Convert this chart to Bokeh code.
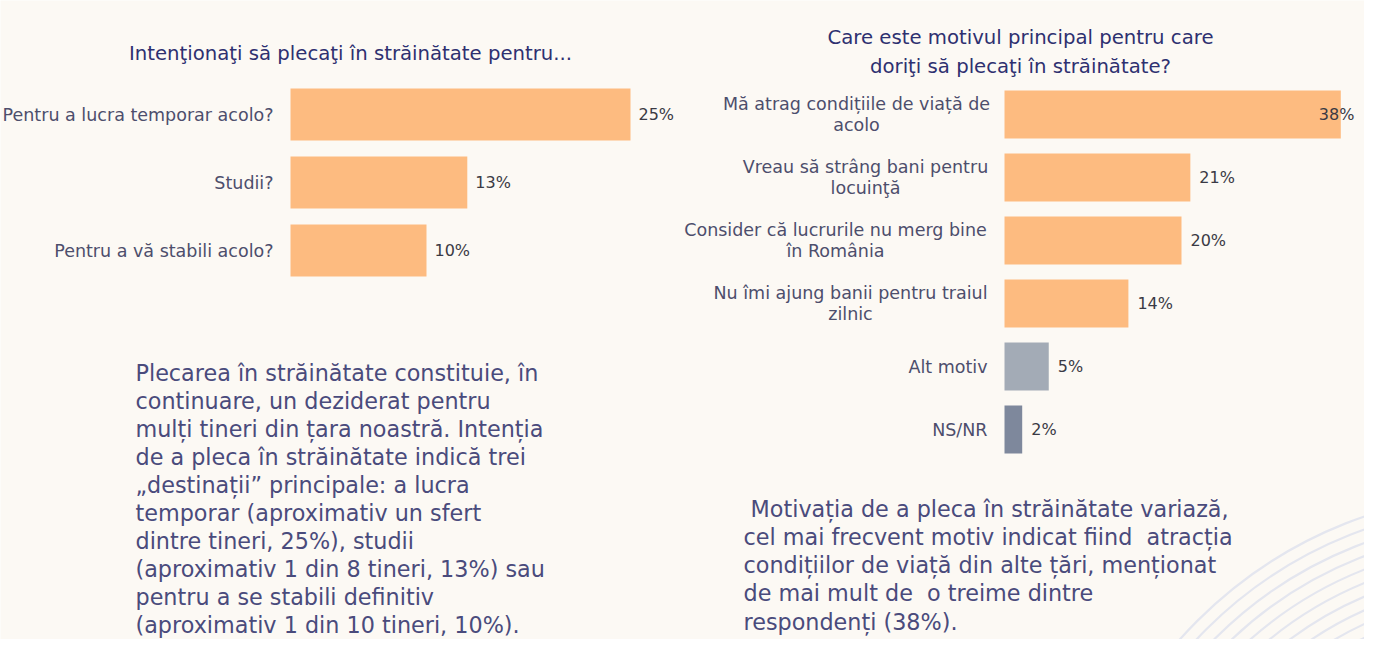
from bokeh.plotting import figure
from bokeh.models import Range1d, ColumnDataSource
from bokeh.core.properties import value
from bokeh.embed import file_html
from bokeh.resources import INLINE

# ---------------- data ----------------
left_title = ["Intenţionaţi să plecaţi în străinătate pentru..."]
left_categories = ["Pentru a lucra temporar acolo?", "Studii?", "Pentru a vă stabili acolo?"]
left_values = [25, 13, 10]
left_value_labels = ["25%", "13%", "10%"]

right_title = ["Care este motivul principal pentru care", "doriţi să plecaţi în străinătate?"]
right_categories = [
    ["Mă atrag condițiile de viață de", "acolo"],
    ["Vreau să strâng bani pentru", "locuinţă"],
    ["Consider că lucrurile nu merg bine", "în România"],
    ["Nu îmi ajung banii pentru traiul", "zilnic"],
    ["Alt motiv"],
    ["NS/NR"],
]
right_values = [38, 21, 20, 14, 5, 2]
right_value_labels = ["38%", "21%", "20%", "14%", "5%", "2%"]

left_paragraph = [
    "Plecarea în străinătate constituie, în",
    "continuare, un deziderat pentru",
    "mulți tineri din țara noastră. Intenția",
    "de a pleca în străinătate indică trei",
    "„destinații” principale: a lucra",
    "temporar (aproximativ un sfert",
    "dintre tineri, 25%), studii",
    "(aproximativ 1 din 8 tineri, 13%) sau",
    "pentru a se stabili definitiv",
    "(aproximativ 1 din 10 tineri, 10%).",
]
right_paragraph = [
    "\u00a0Motivația de a pleca în străinătate variază,",
    "cel mai frecvent motiv indicat fiind \u00a0atracția",
    "condițiilor de viață din alte țări, menționat",
    "de mai mult de \u00a0o treime dintre",
    "respondenți (38%).",
]

# ---------------- styles ----------------
W, H = 1364, 639
OX, OY = 0, 0
BG = "#fcf9f4"
FONT = value("DejaVu Sans")
ORANGE = "#fdbb80"
right_colors = [ORANGE, ORANGE, ORANGE, ORANGE, "#a3abb6", "#7e889c"]
TITLE_C = "#2e3070"
LABEL_C = "#4d4e6c"
VALUE_C = "#3a3a44"
BODY_C = "#4a4b7c"

p = figure(width=W, height=H, x_range=Range1d(OX, OX + W), y_range=Range1d(OY + H, OY),
           output_backend="svg", toolbar_location=None,
           x_axis_location=None, y_axis_location=None, min_border=0,
           background_fill_color=BG, border_fill_color=BG, outline_line_color=None)
p.grid.visible = False

# decorative rings (bottom right)
ring_r = [437 - 12.5 * k for k in range(12)]
p.circle(x=[1506] * len(ring_r), y=[929] * len(ring_r), radius=ring_r,
         fill_color=None, line_color="#e4e6ef", line_width=2.2)


def chart_ranges(name, x0_px, px_per_unit, y0_px, pitch_px):
    xr = Range1d((OX - x0_px) / px_per_unit, (OX + W - x0_px) / px_per_unit)
    yr = Range1d((OY + H - y0_px) / pitch_px, (OY - y0_px) / pitch_px)
    return {name + "x": xr}, {name + "y": yr}


ex1, ey1 = chart_ranges("l", 290, 13.6, 114, 68)
ex2, ey2 = chart_ranges("r", 1004, 8.85, 114, 63)
p.extra_x_ranges = {**ex1, **ex2}
p.extra_y_ranges = {**ey1, **ey2}

LABEL_FS = "17.5px"
VALUE_FS = "16px"
TITLE_FS = "19.7px"
BODY_FS = "22.3px"

# ---- left chart ----
lsrc = ColumnDataSource(dict(idx=list(range(len(left_values))), val=left_values,
                             lab=left_value_labels, cat=left_categories))
p.hbar(y="idx", left=0, right="val", height=0.765, source=lsrc, fill_color=ORANGE,
       line_color=None, x_range_name="lx", y_range_name="ly")
p.text(x="val", y="idx", text="lab", source=lsrc, x_offset=8, text_align="left",
       text_baseline="middle", text_font=FONT, text_font_size=VALUE_FS,
       text_color=VALUE_C, x_range_name="lx", y_range_name="ly")
p.text(x=0, y="idx", text="cat", source=lsrc, x_offset=-17, text_align="right",
       text_baseline="middle", text_font=FONT, text_font_size=LABEL_FS,
       text_color=LABEL_C, x_range_name="lx", y_range_name="ly")
p.text(x=[350], y=[53], text=left_title, text_align="center", text_baseline="middle",
       text_font=FONT, text_font_size=TITLE_FS, text_color=TITLE_C)

# ---- right chart ----
ridx = list(range(len(right_values)))
rsrc = ColumnDataSource(dict(idx=ridx, val=right_values, lab=right_value_labels,
                             col=right_colors, off=[-22, 9, 9, 9, 9, 9]))
p.hbar(y="idx", left=0, right="val", height=0.762, source=rsrc, fill_color="col",
       line_color=None, x_range_name="rx", y_range_name="ry")
p.text(x="val", y="idx", text="lab", source=rsrc, x_offset="off", text_align="left",
       text_baseline="middle", text_font=FONT, text_font_size=VALUE_FS,
       text_color=VALUE_C, x_range_name="rx", y_range_name="ry")

multi = [i for i, c in enumerate(right_categories) if len(c) == 2]
single = [i for i, c in enumerate(right_categories) if len(c) == 1]
centers = [-148, -139, -169, -154]
for line_no, dy in ((0, -10.5), (1, 10.5)):
    p.text(x=0, y=multi, text=[right_categories[i][line_no] for i in multi],
           x_offset=centers, y_offset=dy, text_align="center", text_baseline="middle",
           text_font=FONT, text_font_size=LABEL_FS, text_color=LABEL_C,
           x_range_name="rx", y_range_name="ry")
p.text(x=0, y=single, text=[right_categories[i][0] for i in single], x_offset=-17,
       text_align="right", text_baseline="middle",
       text_font=FONT, text_font_size=LABEL_FS, text_color=LABEL_C,
       x_range_name="rx", y_range_name="ry")
p.text(x=[1020] * len(right_title), y=[37 + 29 * i for i in range(len(right_title))],
       text=right_title, text_align="center", text_baseline="middle",
       text_font=FONT, text_font_size=TITLE_FS, text_color=TITLE_C)

# ---- paragraphs ----
p.text(x=[135] * len(left_paragraph), y=[372 + 28.1 * i for i in range(len(left_paragraph))],
       text=left_paragraph, text_align="left", text_baseline="middle",
       text_font=FONT, text_font_size=BODY_FS, text_color=BODY_C)
p.text(x=[743] * len(right_paragraph), y=[508 + 28.3 * i for i in range(len(right_paragraph))],
       text=right_paragraph, text_align="left", text_baseline="middle",
       text_font=FONT, text_font_size=BODY_FS, text_color=BODY_C)

open("out.html", "w").write(file_html(p, INLINE))
